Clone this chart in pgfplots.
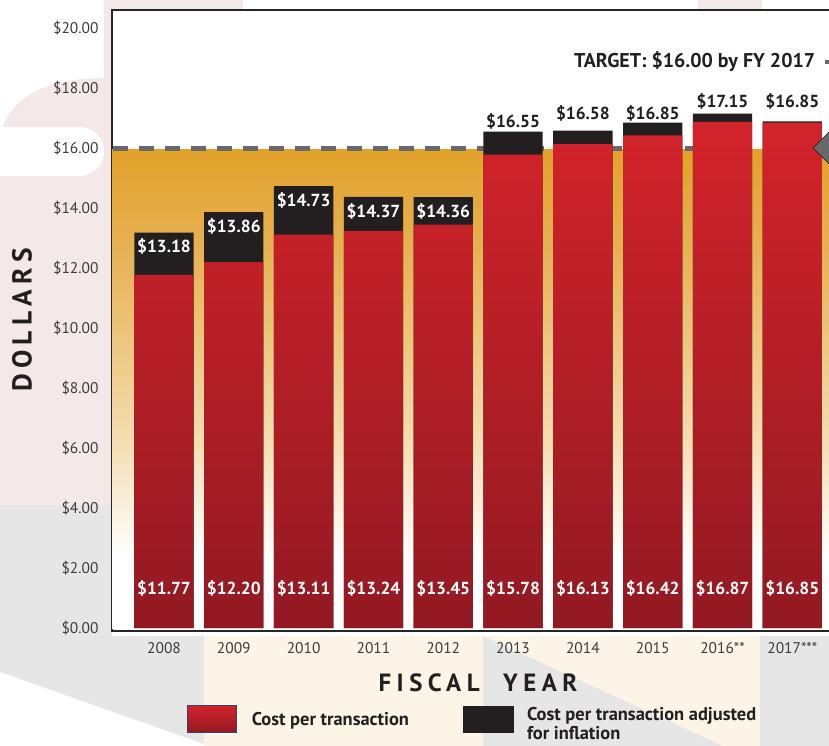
\documentclass[border=0pt]{standalone}
\usepackage{pgfplots}
\pgfplotsset{compat=1.18}
\usepackage{pgfplotstable}
\usepackage{fontspec}
\setmainfont{PT Sans}
\definecolor{barTop}{HTML}{D3232B}
\definecolor{barBot}{HTML}{921922}
\definecolor{blk}{HTML}{231F20}
\definecolor{g1}{HTML}{E6B050}
\definecolor{g2}{HTML}{EDC67F}
\definecolor{g3}{HTML}{F4DDB0}
\definecolor{g4}{HTML}{F9EBD2}
\definecolor{g5}{HTML}{FCF5E8}
\definecolor{gD}{HTML}{E2A22B}
\definecolor{dashgray}{HTML}{686868}
\definecolor{legblue}{HTML}{2B4570}
\definecolor{tickgray}{HTML}{3C3C3C}
\definecolor{pinkbg}{HTML}{F4E8E8}
\definecolor{greybg}{HTML}{E6E6E6}
\definecolor{creambg}{HTML}{FBF4E7}
\pgfdeclareverticalshading{goldfade}{100bp}{color(0bp)=(white); color(25bp)=(white); color(32.5bp)=(white); color(35.9bp)=(g5); color(39.4bp)=(g4); color(44.7bp)=(g3); color(55bp)=(g2); color(65.3bp)=(g1); color(75bp)=(gD); color(100bp)=(gD)}

\pgfplotstableread{
x cost adj
0 11.77 13.18
1 12.20 13.86
2 13.11 14.73
3 13.24 14.37
4 13.45 14.36
5 15.78 16.55
6 16.13 16.58
7 16.42 16.85
8 16.87 17.15
9 16.85 16.89
}\datatable

\pgfplotstableread{
x y v
0 1.33 11.77
1 1.33 12.20
2 1.33 13.11
3 1.33 13.24
4 1.33 13.45
5 1.33 15.78
6 1.33 16.13
7 1.33 16.42
8 1.33 16.87
9 1.33 16.85
}\costlabels

\pgfplotstableread{
x y v
0 12.71 13.18
1 13.39 13.86
2 14.26 14.73
3 13.90 14.37
4 13.89 14.36
}\adjinside

\pgfplotstableread{
x y v
5 16.90 16.55
6 17.17 16.58
7 17.17 16.85
8 17.57 17.15
9 17.57 16.85
}\adjabove

\begin{document}
\begin{tikzpicture}
\path[use as bounding box] (0,0) rectangle (829bp,-746bp);
\begin{scope}[x=1bp,y=-1bp]
\fill[pinkbg] (0,505) -- (0,135) .. controls (10,95) and (50,78) .. (104,78) -- (104,0) -- (243,0) -- (243,10) -- (112,10) -- (112,505) -- cycle;
\fill[white, rounded corners=24bp] (-40,127) rectangle (104,176);
\fill[pinkbg] (698,0) rectangle (762,10);
\fill[greybg] (0,505) -- (112,505) -- (112,636) -- (204,636) -- (204,744) -- (0,672) -- cycle;
\fill[creambg] (204,636) rectangle (760,746);
\fill[greybg] (483,636) -- (723,746) -- (483,746) -- cycle;
\fill[greybg] (760,636) rectangle (829,746);
\end{scope}
\begin{axis}[
  at={(112bp,-631bp)}, anchor=south west,
  scale only axis, width=718bp, height=621bp,
  xmin=-0.745, xmax=9.54, ymin=-0.1, ymax=20.6,
  axis background/.style={fill=white},
  clip=false,
  xtick={0,...,9},
  xticklabels={2008,2009,2010,2011,2012,2013,2014,2015,2016**,2017***},
  ytick={0,2,...,20},
  yticklabel={\$\pgfmathprintnumber[fixed,fixed zerofill,precision=2]{\tick}},
  /pgf/number format/assume math mode=true,
  major tick length=0pt,
  tick style={draw=none},
  axis line style={line width=1.2bp, draw=black!85},
  ticklabel style={font=\fontsize{15.5}{18}\selectfont, text=tickgray},
  yticklabel style={xshift=-10bp},
  xticklabel style={yshift=-8bp},
  xlabel={FISCAL{}\ \ YEAR}, ylabel={DOLLARS},
  xlabel style={at={(axis description cs:0.5097,-0.0837)}, anchor=center, text=blk,
     font=\bfseries\fontsize{25}{28}\selectfont\addfontfeatures{LetterSpace=22}},
  ylabel style={at={(axis description cs:-0.1253,0.5008)}, anchor=center, text=blk,
     font=\bfseries\fontsize{27.5}{30}\selectfont\addfontfeatures{LetterSpace=19}},
  legend columns=2,
  legend cell align=left,
  legend style={at={(axis description cs:0.1045,-0.142)}, anchor=west, draw=none, fill=none,
     inner sep=0pt, font=\bfseries\fontsize{18.5}{19}\selectfont, text=blk,
     nodes={inner sep=0pt, anchor=west}},
]
% target zone background
\addplot[draw=none, shading=goldfade, forget plot] coordinates {(-0.745,15.95) (9.54,15.95)} \closedcycle;
% target dashed line
\addplot[draw=dashgray, line width=5bp, dash pattern=on 15bp off 11bp, forget plot] coordinates {(-0.73,16) (9.6,16)};
% bars
\addplot[ybar, bar width=0.85, bar shift=0pt, fill=blk, draw=none, forget plot] table[x=x, y=adj] {\datatable};
\addplot[ybar, bar width=0.85, bar shift=0pt, top color=barTop, bottom color=barBot, draw=none, forget plot] table[x=x, y=cost] {\datatable};
% labels
\addplot[draw=none, mark=none, forget plot, point meta=explicit symbolic,
  nodes near coords={\$\pgfplotspointmeta},
  every node near coord/.append style={anchor=center, inner sep=0pt, text=white, font=\bfseries\fontsize{17.5}{20}\selectfont}]
  table[x=x, y=y, meta=v] {\costlabels};
\addplot[draw=none, mark=none, forget plot, point meta=explicit symbolic,
  nodes near coords={\$\pgfplotspointmeta},
  every node near coord/.append style={anchor=center, inner sep=0pt, text=white, font=\bfseries\fontsize{17.5}{20}\selectfont}]
  table[x=x, y=y, meta=v] {\adjinside};
\addplot[draw=none, mark=none, forget plot, point meta=explicit symbolic,
  nodes near coords={\$\pgfplotspointmeta},
  every node near coord/.append style={anchor=center, inner sep=0pt, text=blk, font=\bfseries\fontsize{17.5}{20}\selectfont}]
  table[x=x, y=y, meta=v] {\adjabove};
% target annotation
\node[anchor=east, inner sep=0pt, font=\bfseries\fontsize{20}{22}\selectfont, text=blk] at (axis cs:9.33,18.87) {TARGET: \$16.00 by FY 2017};
\addplot[draw=dashgray, line width=4.5bp, forget plot] coordinates {(9.47,18.87) (9.7,18.87)};
\addplot[only marks, mark=square*, mark size=15.5bp, mark options={rotate=45, fill=dashgray, draw=none}, forget plot] coordinates {(9.613,16)};
% legend
\addlegendimage{legend image code/.code={\draw[draw=legblue, line width=1.2bp, top color=barTop, bottom color=barBot] (0bp,-13.5bp) rectangle (49bp,13.5bp); \path[draw=none, fill=none] (49bp,-1bp) rectangle (64bp,1bp);}}
\addlegendentry{\makebox[211bp][l]{Cost per transaction}}
\addlegendimage{legend image code/.code={\fill[blk] (0bp,-13bp) rectangle (50bp,13bp); \path[draw=none, fill=none] (50bp,-1bp) rectangle (64bp,1bp);}}
\addlegendentry{\begin{tabular}{@{}l@{}}Cost per transaction adjusted\\for inflation\end{tabular}}
\end{axis}
\end{tikzpicture}
\end{document}
